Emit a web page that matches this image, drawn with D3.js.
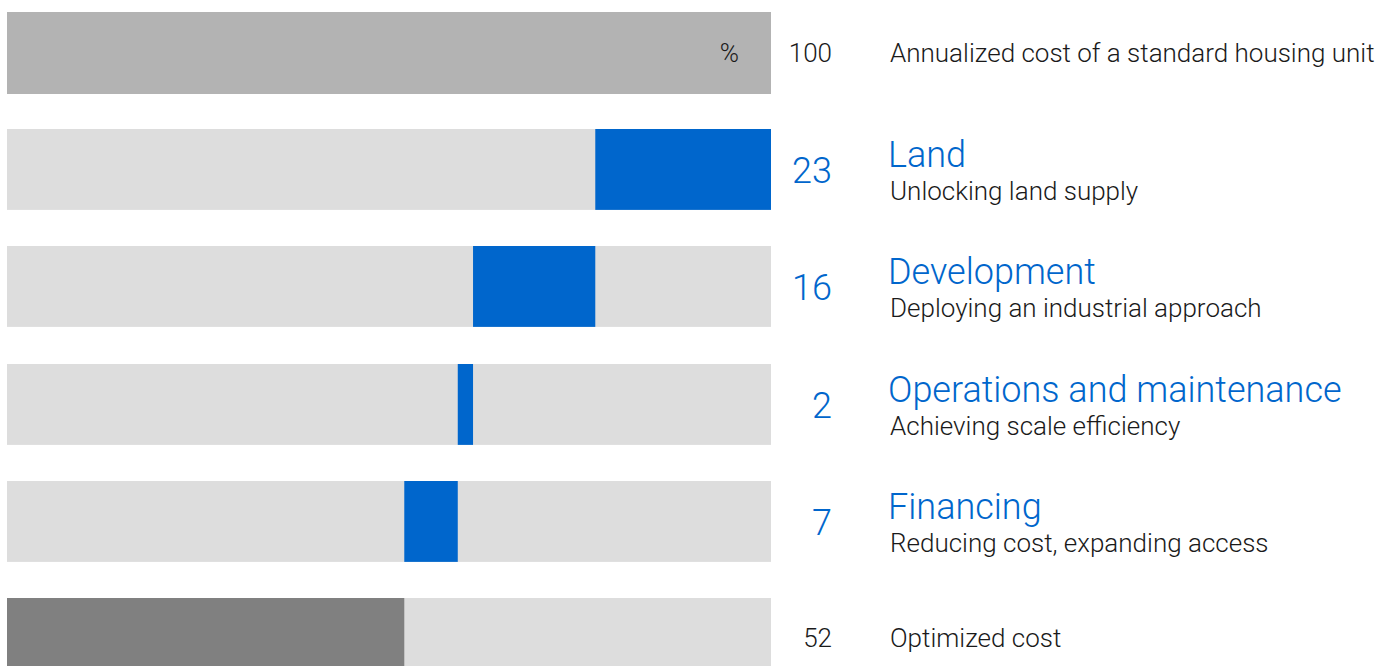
<!DOCTYPE html>
<html>
<head>
<meta charset="utf-8">
<script src="https://cdn.jsdelivr.net/npm/d3@7"></script>
<style>
  body { margin: 0; background: #fff; }
  text { font-family: Roboto, "Liberation Sans", sans-serif; font-weight: 300; }
</style>
</head>
<body>
<script>
var W = 1397, H = 666;

// rows of the waterfall, top to bottom
var rowKeys  = ["total", "land", "development", "operations", "financing", "optimized"];
var values   = [100, 23, 16, 2, 7, 52];
var titles   = ["", "Land", "Development", "Operations and maintenance", "Financing", ""];
var captions = ["Annualized cost of a standard housing unit", "Unlocking land supply",
                "Deploying an industrial approach", "Achieving scale efficiency",
                "Reducing cost, expanding access", "Optimized cost"];
var unitLabel = "%";

// build the segments: savings step down from 100 to the optimized cost
var rows = [];
var level = 100;
rowKeys.forEach(function(k, i) {
  var r = { key: k, value: values[i], title: titles[i], caption: captions[i] };
  if (k === "total") { r.x0 = 0; r.x1 = values[i]; r.kind = "total"; }
  else if (k === "optimized") { r.x0 = 0; r.x1 = values[i]; r.kind = "result"; }
  else { r.x1 = level; r.x0 = level - values[i]; level = r.x0; r.kind = "step"; }
  rows.push(r);
});

var x = d3.scaleLinear().domain([0, 100]).range([7, 771]);
var y = d3.scaleBand().domain(rowKeys).range([12, 679]).paddingInner(0.31);

var svg = d3.select("body").append("svg")
  .attr("width", W)
  .attr("height", H);

var g = svg.selectAll("g.row")
  .data(rows)
  .enter().append("g")
  .attr("class", "row")
  .attr("transform", function(d) { return "translate(0," + Math.round(y(d.key)) + ")"; });

// background track
g.append("rect")
  .attr("x", x(0))
  .attr("width", x(100) - x(0))
  .attr("height", function(d) { return d.kind === "total" ? 82 : y.bandwidth(); })
  .style("fill", function(d) { return d.kind === "total" ? "#b3b3b3" : "#dddddd"; });

// value segment
g.filter(function(d) { return d.kind !== "total"; })
  .append("rect")
  .attr("x", function(d) { return x(d.x0); })
  .attr("width", function(d) { return x(d.x1) - x(d.x0); })
  .attr("height", y.bandwidth())
  .style("fill", function(d) { return d.kind === "result" ? "#808080" : "#0066cc"; });

// % marker inside top bar
g.filter(function(d) { return d.kind === "total"; })
  .append("text")
  .attr("x", 739)
  .attr("y", 50)
  .attr("text-anchor", "end")
  .style("font-size", "26px")
  .style("fill", "#1a1a1a")
  .text(unitLabel);

// numbers
g.append("text")
  .attr("x", 832)
  .attr("y", function(d) { return d.kind === "step" ? 54 : (d.kind === "total" ? 50 : 49); })
  .attr("text-anchor", "end")
  .style("font-size", function(d) { return d.kind === "step" ? "36px" : "26px"; })
  .style("fill", function(d) { return d.kind === "step" ? "#0066cc" : "#1a1a1a"; })
  .text(function(d) { return d.value; });

// titles
g.filter(function(d) { return d.kind === "step"; })
  .append("text")
  .attr("x", 888)
  .attr("y", 38)
  .style("font-size", "36px")
  .style("fill", "#0066cc")
  .text(function(d) { return d.title; });

// captions
g.append("text")
  .attr("x", 890)
  .attr("y", function(d) { return d.kind === "step" ? 71 : (d.kind === "total" ? 50 : 49); })
  .style("font-size", "26px")
  .style("fill", "#1a1a1a")
  .text(function(d) { return d.caption; });
</script>
</body>
</html>
